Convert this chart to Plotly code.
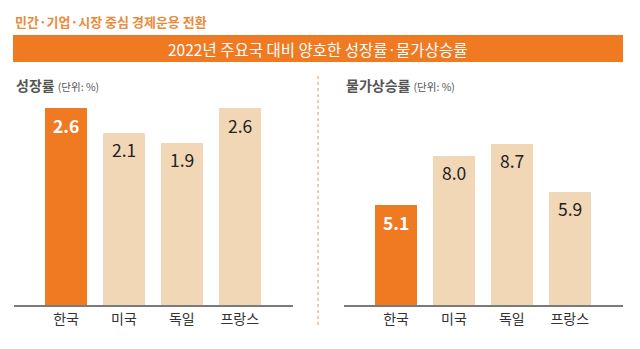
import plotly.graph_objects as go

countries = ["한국", "미국", "독일", "프랑스"]
growth = [2.6, 2.1, 1.9, 2.6]
inflation = [5.1, 8.0, 8.7, 5.9]

title_top = "민간·기업·시장 중심 경제운용 전환"
banner = "2022년 주요국 대비 양호한 성장률·물가상승률"
panel1 = "성장률"
panel2 = "물가상승률"
unit = "(단위: %)"

ORANGE = "#F07A22"
BEIGE = "#F2D7B6"
SUB = "#EC8A3A"
FONT = "Noto Sans CJK KR"

# axis floors (chart baseline value) for each panel
floor1, top1 = -1.42, 2.77
floor2, top2 = -0.72, 11.25

colors = [ORANGE, BEIGE, BEIGE, BEIGE]

fig = go.Figure()
fig.add_trace(go.Bar(x=countries, y=[v - floor1 for v in growth], base=floor1,
                     marker=dict(color=colors, line=dict(width=0)), width=0.73,
                     xaxis="x", yaxis="y", hoverinfo="skip"))
fig.add_trace(go.Bar(x=countries, y=[v - floor2 for v in inflation], base=floor2,
                     marker=dict(color=colors, line=dict(width=0)), width=0.73,
                     xaxis="x2", yaxis="y2", hoverinfo="skip"))

ann = []
for i, (c, v) in enumerate(zip(countries, growth)):
    ann.append(dict(x=c, y=v, xref="x", yref="y", text=("<b>%.1f</b>" % v) if i == 0 else "%.1f" % v,
                    showarrow=False, yanchor="middle", yshift=-17,
                    font=dict(family=FONT, size=17.5, color="white" if i == 0 else "#222")))
for i, (c, v) in enumerate(zip(countries, inflation)):
    ann.append(dict(x=c, y=v, xref="x2", yref="y2", text=("<b>%.1f</b>" % v) if i == 0 else "%.1f" % v,
                    showarrow=False, yanchor="middle", yshift=-17,
                    font=dict(family=FONT, size=17.5, color="white" if i == 0 else "#222")))

ann.append(dict(x=13 / 640, y=1 - 22 / 349, xref="paper", yref="paper", xanchor="left", yanchor="middle",
                text="<b>" + title_top + "</b>", showarrow=False,
                font=dict(family=FONT, size=13, color=SUB)))
ann.append(dict(x=317 / 640, y=1 - 48.5 / 349, xref="paper", yref="paper", xanchor="center", yanchor="middle",
                text=banner, showarrow=False, font=dict(family=FONT, size=15.5, color="white")))
ann.append(dict(x=14 / 640, y=1 - 85 / 349, xref="paper", yref="paper", xanchor="left", yanchor="middle",
                text="<b>" + panel1 + "</b> <span style='font-size:10.5px'>" + unit + "</span>", showarrow=False,
                font=dict(family=FONT, size=14, color="#555")))
ann.append(dict(x=344 / 640, y=1 - 85 / 349, xref="paper", yref="paper", xanchor="left", yanchor="middle",
                text="<b>" + panel2 + "</b> <span style='font-size:10.5px'>" + unit + "</span>", showarrow=False,
                font=dict(family=FONT, size=14, color="#555")))

shapes = [
    dict(type="rect", xref="paper", yref="paper", x0=13 / 640, x1=623 / 640,
         y0=1 - 62 / 349, y1=1 - 35 / 349, fillcolor=ORANGE, line=dict(width=0), layer="below"),
    dict(type="line", xref="paper", yref="paper", x0=318 / 640, x1=318 / 640,
         y0=1 - 325 / 349, y1=1 - 74 / 349, line=dict(color="#F1B98C", width=1.5, dash="dot")),
]

ydom = [1 - 305 / 349, 1 - 100 / 349]
xcommon = dict(showgrid=False, zeroline=False, showline=True, linecolor="#7a7a7a", linewidth=1.5,
               ticks="", tickfont=dict(family=FONT, size=14, color="#333"), fixedrange=True,
               range=[-0.9, 3.92])
ycommon = dict(showgrid=False, zeroline=False, showline=False, showticklabels=False, fixedrange=True)

fig.update_layout(
    width=640, height=349, margin=dict(l=0, r=0, t=0, b=0),
    paper_bgcolor="white", plot_bgcolor="white", showlegend=False,
    xaxis=dict(domain=[14 / 640, 293 / 640], anchor="y", **xcommon),
    xaxis2=dict(domain=[344 / 640, 623 / 640], anchor="y2", **xcommon),
    yaxis=dict(domain=ydom, range=[floor1, top1], anchor="x", **ycommon),
    yaxis2=dict(domain=ydom, range=[floor2, top2], anchor="x2", **ycommon),
    annotations=ann, shapes=shapes, bargap=0,
)

fig.write_html("out.html", config={"displayModeBar": False})
